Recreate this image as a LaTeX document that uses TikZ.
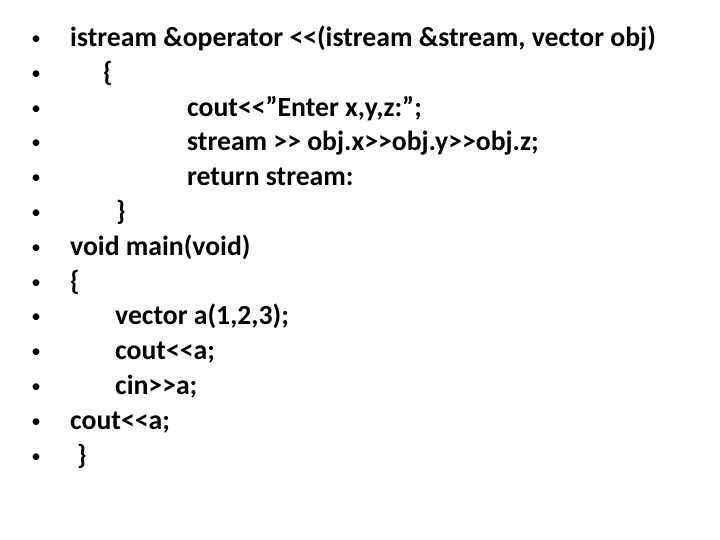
\documentclass[tikz,border=0pt]{standalone}
\usepackage{fontspec}
\setmainfont{Carlito}[Ligatures=NoCommon]
\begin{document}
\begin{tikzpicture}[x=1pt,y=1pt,
  ln/.style={anchor=west,inner sep=0pt,font=\bfseries\fontsize{27.7}{32}\selectfont,text height=19pt,text depth=6pt},
  bl/.style={anchor=center,inner sep=0pt,font=\fontsize{19}{22}\selectfont}]
\useasboundingbox (0,0) rectangle (720,540);
\foreach \i/\yy in {1/40,2/75,3/110,4/144,5/179,6/214,7/249,8/284,9/318,10/353,11/388,12/423,13/458}{
  \node[bl] (b\i) at (36,540-\yy) {\textbullet};
}
\node[ln] (t1) at (70,500) {istream \&operator <{}<(istream \&stream, vector obj)};
\node[ln] (t2) at (103,465) {\{};
\node[ln] (t3) at (187,430) {cout<{}<”Enter x,y,z:”;};
\node[ln] (t4) at (187,396) {stream >{}> obj.x>{}>obj.y>{}>obj.z;};
\node[ln] (t5) at (187,361) {return stream:};
\node[ln] (t6) at (116,326) {\}};
\node[ln] (t7) at (70,291) {void main(void)};
\node[ln] (t8) at (70,256) {\{};
\node[ln] (t9) at (115,222) {vector a(1,2,3);};
\node[ln] (t10) at (115,187) {cout<{}<a;};
\node[ln] (t11) at (115,152) {cin>{}>a;};
\node[ln] (t12) at (70,117) {cout<{}<a;};
\node[ln] (t13) at (77,82) {\}};
\end{tikzpicture}
\end{document}
